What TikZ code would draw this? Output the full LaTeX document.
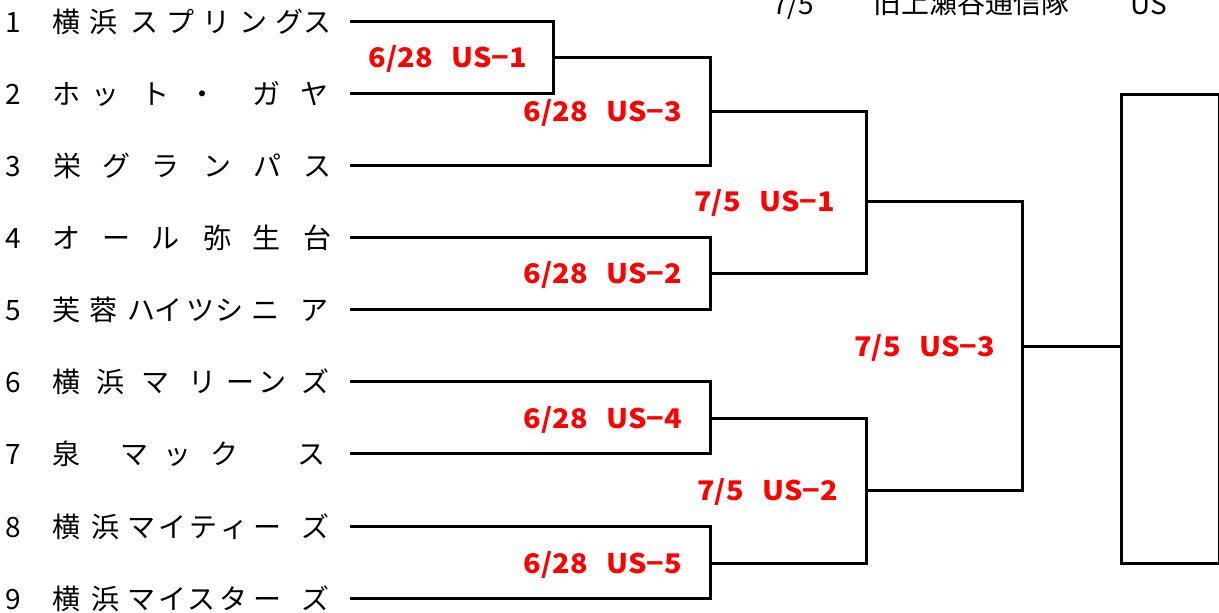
\documentclass[tikz,border=0pt]{standalone}
\usepackage{fontspec}
\setmainfont{Noto Sans CJK JP}
\newcommand{\lbltxt}[2]{\scalebox{1.07}[1]{#1\hspace{0.65em}US−#2}}
\begin{document}
\begin{tikzpicture}[x=1pt,y=-1pt,
  ln/.style={line width=3pt, line join=miter},
  tn/.style={anchor=base, inner sep=0pt, font=\fontsize{28}{28}\selectfont},
  num/.style={anchor=base, inner sep=0pt, font=\fontsize{28}{28}\selectfont},
  lab/.style={anchor=base east, inner sep=0pt, text=red, font=\fontsize{27}{27}\selectfont\bfseries},
  top/.style={anchor=base west, inner sep=0pt, font=\fontsize{28}{28}\selectfont},
]
\useasboundingbox (0,0) rectangle (1219,613);

% heading (partly cut off at the top, as in the reference)
\node[top] (hd) at (772,15) {7/5};
\node[top] (hp) at (873,13) {旧上瀬谷通信隊};
\node[top] (hu) at (1130,15) {US};

% team rows: number, characters, line start
\foreach \r/\y/\chars in {
  1/21/{66/横,103/浜,144/ス,180/プ,216/リ,253/ン,289/グ,317/ス},
  2/93/{66/ホ,105/ッ,155/ト,202/・,266/ガ,314/ヤ},
  3/165/{67/栄,116/グ,165/ラ,217/ン,267/パ,317/ス},
  4/237/{66/オ,116/ー,165/ル,217/弥,266/生,317/台},
  5/309/{66/芙,103/蓉,141/ハ,168/イ,200/ツ,229/シ,265/ニ,314/ア},
  6/381/{66/横,110/浜,155/マ,202/リ,240/ー,272/ン,315/ズ},
  7/453/{66/泉,134/マ,177/ッ,224/ク,311/ス},
  8/526/{66/横,105/浜,141/マ,172/イ,203/テ,234/ィ,267/ー,315/ズ},
  9/598/{66/横,105/浜,141/マ,172/イ,201/ス,233/タ,267/ー,315/ズ}} {
  \node[num] (n\r) at (13,\y+11) {\r};
  \foreach \x/\c [count=\i] in \chars {
    \node[tn] (r\r c\i) at (\x,\y+11) {\c};
  }
  \coordinate (t\r) at (350,\y);
}

% match points
\coordinate (a1) at (553,21);  \coordinate (a2) at (553,93);  \coordinate (m1) at (553,57);
\coordinate (b1) at (710,57);  \coordinate (b2) at (710,165); \coordinate (m3) at (710,111);
\coordinate (c1) at (710,237); \coordinate (c2) at (710,309); \coordinate (m2) at (710,273);
\coordinate (d1) at (710,381); \coordinate (d2) at (710,453); \coordinate (m4) at (710,418);
\coordinate (e1) at (710,526); \coordinate (e2) at (710,598); \coordinate (m5) at (710,563);
\coordinate (f1) at (866,111); \coordinate (f2) at (866,273); \coordinate (q1) at (866,201);
\coordinate (g1) at (866,418); \coordinate (g2) at (866,563); \coordinate (q2) at (866,490);
\coordinate (h1) at (1022,201); \coordinate (h2) at (1022,490); \coordinate (s3) at (1022,346);
\coordinate (w) at (1120,346);

% first round
\draw[ln] (t1) -- (a1) -- (a2) -- (t2);
\draw[ln] (m1) -- (b1) -- (b2) -- (t3);
\draw[ln] (t4) -- (c1) -- (c2) -- (t5);
\draw[ln] (t6) -- (d1) -- (d2) -- (t7);
\draw[ln] (t8) -- (e1) -- (e2) -- (t9);
% second round
\draw[ln] (m3) -- (f1) -- (f2) -- (m2);
\draw[ln] (m4) -- (g1) -- (g2) -- (m5);
% semifinal
\draw[ln] (q1) -- (h1) -- (h2) -- (q2);
\draw[ln] (s3) -- (w);
% winner box
\node[draw, line width=3pt, minimum width=98pt, minimum height=469pt, inner sep=0pt, anchor=north west] (win) at (1120,93) {};

% match labels
\node[lab] (l1) at (527,67)  {\lbltxt{6/28}{1}};
\node[lab] (l3) at (682,121) {\lbltxt{6/28}{3}};
\node[lab] (l2) at (682,283) {\lbltxt{6/28}{2}};
\node[lab] (l4) at (682,428) {\lbltxt{6/28}{4}};
\node[lab] (l5) at (682,573) {\lbltxt{6/28}{5}};
\node[lab] (k1) at (835,211) {\lbltxt{7/5}{1}};
\node[lab] (k2) at (838,500) {\lbltxt{7/5}{2}};
\node[lab] (k3) at (995,356) {\lbltxt{7/5}{3}};
\end{tikzpicture}
\end{document}
